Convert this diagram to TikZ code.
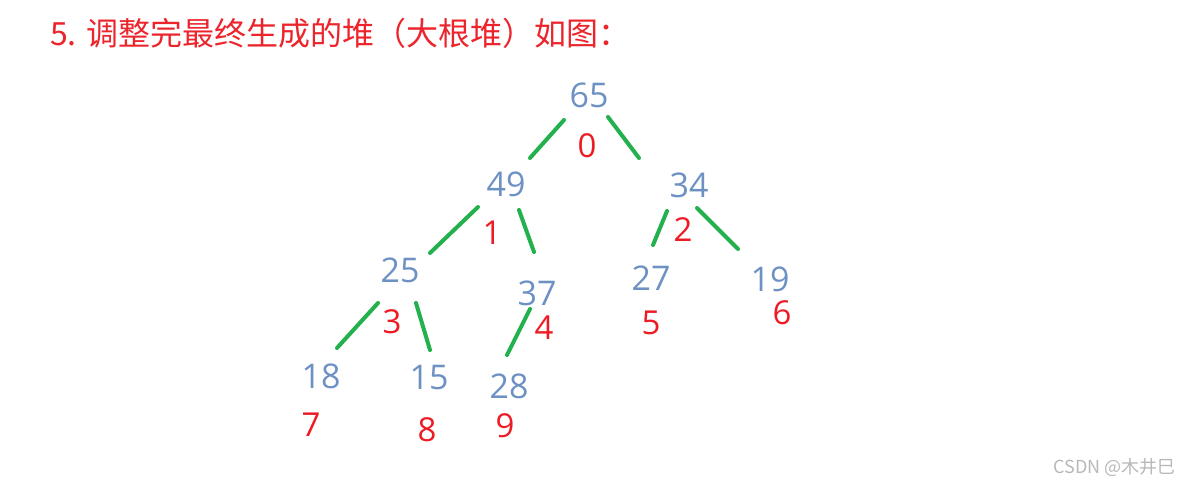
\documentclass[tikz,border=0pt]{standalone}
\usepackage{fontspec}
\setmainfont{Open Sans}
\newfontfamily\cjk{Noto Sans CJK SC}
\definecolor{numblue}{RGB}{110,145,196}
\definecolor{idxred}{RGB}{237,28,36}
\definecolor{titlered}{RGB}{236,36,44}
\definecolor{edgegreen}{RGB}{34,177,76}
\tikzset{
  val/.style={inner sep=0pt, text=numblue, font=\fontsize{34}{34}\selectfont},
  idx/.style={inner sep=0pt, text=idxred, font=\fontsize{33}{33}\selectfont},
  edge/.style={draw=edgegreen, line width=4pt, line cap=round},
}
\begin{document}
\begin{tikzpicture}[x=1pt,y=-1pt]
\useasboundingbox (0,0) rectangle (1182,489);
\node[anchor=west, inner sep=0pt, text=titlered, font=\cjk\fontsize{32}{32}\selectfont] (title) at (50,33) {5. 调整完最终生成的堆（大根堆）如图：};
% values
\node[val] (n65) at (589,95) {65};
\node[val] (n49) at (506,184) {49};
\node[val] (n34) at (689,185) {34};
\node[val] (n25) at (400,270) {25};
\node[val] (n37) at (537,293) {37};
\node[val] (n27) at (651,278) {27};
\node[val] (n19) at (770,279) {19};
\node[val] (n18) at (321,376) {18};
\node[val] (n15) at (429,378) {15};
\node[val] (n28) at (509,386) {28};
% indices
\node[idx] (i0) at (587,146) {0};
\node[idx] (i1) at (492,233) {1};
\node[idx] (i2) at (683,230) {2};
\node[idx] (i3) at (392,322) {3};
\node[idx] (i4) at (544,328) {4};
\node[idx] (i5) at (651,323) {5};
\node[idx] (i6) at (782,313) {6};
\node[idx] (i7) at (311,425) {7};
\node[idx] (i8) at (427,430) {8};
\node[idx] (i9) at (505,426) {9};
% edge end points
\coordinate (a1) at (564,120); \coordinate (b1) at (530,158);
\coordinate (a2) at (608,117); \coordinate (b2) at (639,158);
\coordinate (a3) at (478,207); \coordinate (b3) at (430,253);
\coordinate (a4) at (519,210); \coordinate (b4) at (534,252);
\coordinate (a5) at (667,211); \coordinate (b5) at (653,245);
\coordinate (a6) at (697,208); \coordinate (b6) at (738,249);
\coordinate (a7) at (378,303); \coordinate (b7) at (337,348);
\coordinate (a8) at (416,303); \coordinate (b8) at (430,350);
\coordinate (a9) at (530,309); \coordinate (b9) at (507,355);
\draw[edge] (a1) -- (b1);
\draw[edge] (a2) -- (b2);
\draw[edge] (a3) -- (b3);
\draw[edge] (a4) -- (b4);
\draw[edge] (a5) -- (b5);
\draw[edge] (a6) -- (b6);
\draw[edge] (a7) -- (b7);
\draw[edge] (a8) -- (b8);
\draw[edge] (a9) -- (b9);
% watermark
\node[anchor=east, inner sep=0pt, text=black!28, font=\cjk\fontsize{18}{18}\selectfont] (wm) at (1176,468) {CSDN @木井巳};
\end{tikzpicture}
\end{document}
